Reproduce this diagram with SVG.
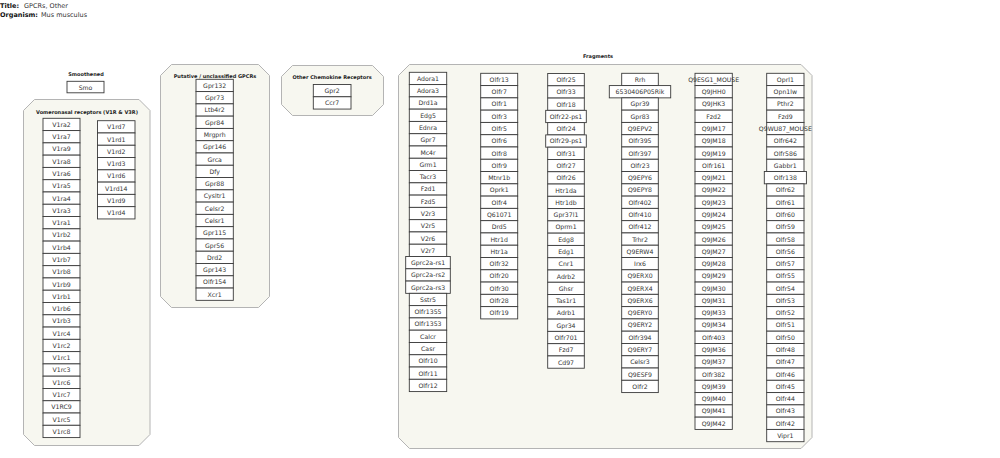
<svg xmlns="http://www.w3.org/2000/svg" width="1000" height="458" viewBox="0 0 1000 458">
<style>
.grp{fill:#f7f7f0;stroke:#b4b4b4;stroke-width:1}
.box rect{fill:#ffffff;stroke:#3a3a3a;stroke-width:0.9}
.box text{font-family:"DejaVu Sans",sans-serif;font-size:6.2px;fill:#333;text-anchor:middle}
.ttl{font-family:"DejaVu Sans",sans-serif;font-size:5px;font-weight:bold;fill:#222;text-anchor:middle}
.hd{font-family:"DejaVu Sans",sans-serif;font-size:6.5px;fill:#333}
.hd .b{font-weight:bold;fill:#111}
</style>
<rect width="1000" height="458" fill="#ffffff"/>
<g id="header">
<text class="hd" x="0" y="7.5"><tspan class="b">Title:</tspan></text><text class="hd" x="24" y="7.5">GPCRs, Other</text>
<text class="hd" x="0" y="16.5"><tspan class="b">Organism:</tspan></text><text class="hd" x="41" y="16.5">Mus musculus</text>
</g>
<g id="groups">
<path id="grp_vomeronasal" class="grp" d="M34.5,99.5 H139 L150,110.5 V434.5 L139,445.5 H34.5 L23.5,434.5 V110.5 Z"/>
<path id="grp_putative" class="grp" d="M171.5,64.5 H258.5 L269.5,75.5 V296.5 L258.5,307.5 H171.5 L160.5,296.5 V75.5 Z"/>
<path id="grp_chemokine" class="grp" d="M292.5,65.5 H372.5 L383.5,76.5 V104.5 L372.5,115.5 H292.5 L281.5,104.5 V76.5 Z"/>
<path id="grp_fragments" class="grp" d="M409.5,64.5 H801 L812,75.5 V437.5 L801,448.5 H409.5 L398.5,437.5 V75.5 Z"/>
</g>
<g id="titles">
<text class="ttl" x="86" y="76">Smoothened</text>
<text class="ttl" x="87" y="113.5">Vomeronasal receptors (V1R &amp; V3R)</text>
<text class="ttl" x="215" y="77.5">Putative / unclassified GPCRs</text>
<text class="ttl" x="332" y="78.5">Other Chemokine Receptors</text>
<text class="ttl" x="598" y="57.5">Fragments</text>
</g>
<g id="connectors"/>
<g id="n_Smo" class="box" transform="translate(67,81.3)"><rect width="37" height="11.5"/><text x="18.5" y="8.3">Smo</text></g>
<g id="col_v1ra" transform="translate(43,118.3)">
<g id="n_V1ra2" class="box" transform="translate(0,0)"><rect width="37" height="12.28"/><text x="18.5" y="8.6">V1ra2</text></g>
<g id="n_V1ra7" class="box" transform="translate(0,12.28)"><rect width="37" height="12.28"/><text x="18.5" y="8.6">V1ra7</text></g>
<g id="n_V1ra9" class="box" transform="translate(0,24.56)"><rect width="37" height="12.28"/><text x="18.5" y="8.6">V1ra9</text></g>
<g id="n_V1ra8" class="box" transform="translate(0,36.84)"><rect width="37" height="12.28"/><text x="18.5" y="8.6">V1ra8</text></g>
<g id="n_V1ra6" class="box" transform="translate(0,49.12)"><rect width="37" height="12.28"/><text x="18.5" y="8.6">V1ra6</text></g>
<g id="n_V1ra5" class="box" transform="translate(0,61.4)"><rect width="37" height="12.28"/><text x="18.5" y="8.6">V1ra5</text></g>
<g id="n_V1ra4" class="box" transform="translate(0,73.68)"><rect width="37" height="12.28"/><text x="18.5" y="8.6">V1ra4</text></g>
<g id="n_V1ra3" class="box" transform="translate(0,85.96)"><rect width="37" height="12.28"/><text x="18.5" y="8.6">V1ra3</text></g>
<g id="n_V1ra1" class="box" transform="translate(0,98.24)"><rect width="37" height="12.28"/><text x="18.5" y="8.6">V1ra1</text></g>
<g id="n_V1rb2" class="box" transform="translate(0,110.52)"><rect width="37" height="12.28"/><text x="18.5" y="8.6">V1rb2</text></g>
<g id="n_V1rb4" class="box" transform="translate(0,122.8)"><rect width="37" height="12.28"/><text x="18.5" y="8.6">V1rb4</text></g>
<g id="n_V1rb7" class="box" transform="translate(0,135.08)"><rect width="37" height="12.28"/><text x="18.5" y="8.6">V1rb7</text></g>
<g id="n_V1rb8" class="box" transform="translate(0,147.36)"><rect width="37" height="12.28"/><text x="18.5" y="8.6">V1rb8</text></g>
<g id="n_V1rb9" class="box" transform="translate(0,159.64)"><rect width="37" height="12.28"/><text x="18.5" y="8.6">V1rb9</text></g>
<g id="n_V1rb1" class="box" transform="translate(0,171.92)"><rect width="37" height="12.28"/><text x="18.5" y="8.6">V1rb1</text></g>
<g id="n_V1rb6" class="box" transform="translate(0,184.2)"><rect width="37" height="12.28"/><text x="18.5" y="8.6">V1rb6</text></g>
<g id="n_V1rb3" class="box" transform="translate(0,196.48)"><rect width="37" height="12.28"/><text x="18.5" y="8.6">V1rb3</text></g>
<g id="n_V1rc4" class="box" transform="translate(0,208.76)"><rect width="37" height="12.28"/><text x="18.5" y="8.6">V1rc4</text></g>
<g id="n_V1rc2" class="box" transform="translate(0,221.04)"><rect width="37" height="12.28"/><text x="18.5" y="8.6">V1rc2</text></g>
<g id="n_V1rc1" class="box" transform="translate(0,233.32)"><rect width="37" height="12.28"/><text x="18.5" y="8.6">V1rc1</text></g>
<g id="n_V1rc3" class="box" transform="translate(0,245.6)"><rect width="37" height="12.28"/><text x="18.5" y="8.6">V1rc3</text></g>
<g id="n_V1rc6" class="box" transform="translate(0,257.88)"><rect width="37" height="12.28"/><text x="18.5" y="8.6">V1rc6</text></g>
<g id="n_V1rc7" class="box" transform="translate(0,270.16)"><rect width="37" height="12.28"/><text x="18.5" y="8.6">V1rc7</text></g>
<g id="n_V1RC9" class="box" transform="translate(0,282.44)"><rect width="37" height="12.28"/><text x="18.5" y="8.6">V1RC9</text></g>
<g id="n_V1rc5" class="box" transform="translate(0,294.72)"><rect width="37" height="12.28"/><text x="18.5" y="8.6">V1rc5</text></g>
<g id="n_V1rc8" class="box" transform="translate(0,307)"><rect width="37" height="12.28"/><text x="18.5" y="8.6">V1rc8</text></g>
</g>
<g id="col_v1rd" transform="translate(97.5,120.7)">
<g id="n_V1rd7" class="box" transform="translate(0,0)"><rect width="37.5" height="12.28"/><text x="18.75" y="8.6">V1rd7</text></g>
<g id="n_V1rd1" class="box" transform="translate(0,12.28)"><rect width="37.5" height="12.28"/><text x="18.75" y="8.6">V1rd1</text></g>
<g id="n_V1rd2" class="box" transform="translate(0,24.56)"><rect width="37.5" height="12.28"/><text x="18.75" y="8.6">V1rd2</text></g>
<g id="n_V1rd3" class="box" transform="translate(0,36.84)"><rect width="37.5" height="12.28"/><text x="18.75" y="8.6">V1rd3</text></g>
<g id="n_V1rd6" class="box" transform="translate(0,49.12)"><rect width="37.5" height="12.28"/><text x="18.75" y="8.6">V1rd6</text></g>
<g id="n_V1rd14" class="box" transform="translate(0,61.4)"><rect width="37.5" height="12.28"/><text x="18.75" y="8.6">V1rd14</text></g>
<g id="n_V1rd9" class="box" transform="translate(0,73.68)"><rect width="37.5" height="12.28"/><text x="18.75" y="8.6">V1rd9</text></g>
<g id="n_V1rd4" class="box" transform="translate(0,85.96)"><rect width="37.5" height="12.28"/><text x="18.75" y="8.6">V1rd4</text></g>
</g>
<g id="col_putative" transform="translate(196,79.3)">
<g id="n_Gpr132" class="box" transform="translate(0,0)"><rect width="37.3" height="12.28"/><text x="18.65" y="8.6">Gpr132</text></g>
<g id="n_Gpr73" class="box" transform="translate(0,12.28)"><rect width="37.3" height="12.28"/><text x="18.65" y="8.6">Gpr73</text></g>
<g id="n_Ltb4r2" class="box" transform="translate(0,24.56)"><rect width="37.3" height="12.28"/><text x="18.65" y="8.6">Ltb4r2</text></g>
<g id="n_Gpr84" class="box" transform="translate(0,36.84)"><rect width="37.3" height="12.28"/><text x="18.65" y="8.6">Gpr84</text></g>
<g id="n_Mrgprh" class="box" transform="translate(0,49.12)"><rect width="37.3" height="12.28"/><text x="18.65" y="8.6">Mrgprh</text></g>
<g id="n_Gpr146" class="box" transform="translate(0,61.4)"><rect width="37.3" height="12.28"/><text x="18.65" y="8.6">Gpr146</text></g>
<g id="n_Grca" class="box" transform="translate(0,73.68)"><rect width="37.3" height="12.28"/><text x="18.65" y="8.6">Grca</text></g>
<g id="n_Dfy" class="box" transform="translate(0,85.96)"><rect width="37.3" height="12.28"/><text x="18.65" y="8.6">Dfy</text></g>
<g id="n_Gpr88" class="box" transform="translate(0,98.24)"><rect width="37.3" height="12.28"/><text x="18.65" y="8.6">Gpr88</text></g>
<g id="n_Cysltr1" class="box" transform="translate(0,110.52)"><rect width="37.3" height="12.28"/><text x="18.65" y="8.6">Cysltr1</text></g>
<g id="n_Celsr2" class="box" transform="translate(0,122.8)"><rect width="37.3" height="12.28"/><text x="18.65" y="8.6">Celsr2</text></g>
<g id="n_Celsr1" class="box" transform="translate(0,135.08)"><rect width="37.3" height="12.28"/><text x="18.65" y="8.6">Celsr1</text></g>
<g id="n_Gpr115" class="box" transform="translate(0,147.36)"><rect width="37.3" height="12.28"/><text x="18.65" y="8.6">Gpr115</text></g>
<g id="n_Gpr56" class="box" transform="translate(0,159.64)"><rect width="37.3" height="12.28"/><text x="18.65" y="8.6">Gpr56</text></g>
<g id="n_Drd2" class="box" transform="translate(0,171.92)"><rect width="37.3" height="12.28"/><text x="18.65" y="8.6">Drd2</text></g>
<g id="n_Gpr143" class="box" transform="translate(0,184.2)"><rect width="37.3" height="12.28"/><text x="18.65" y="8.6">Gpr143</text></g>
<g id="n_Olfr154" class="box" transform="translate(0,196.48)"><rect width="37.3" height="12.28"/><text x="18.65" y="8.6">Olfr154</text></g>
<g id="n_Xcr1" class="box" transform="translate(0,208.76)"><rect width="37.3" height="12.28"/><text x="18.65" y="8.6">Xcr1</text></g>
</g>
<g id="col_chemokine" transform="translate(313.3,84.5)">
<g id="n_Gpr2" class="box" transform="translate(0,0)"><rect width="37.7" height="12.28"/><text x="18.85" y="8.6">Gpr2</text></g>
<g id="n_Ccr7" class="box" transform="translate(0,12.28)"><rect width="37.7" height="12.28"/><text x="18.85" y="8.6">Ccr7</text></g>
</g>
<g id="col_fragA" transform="translate(409.3,72.3)">
<g id="n_Adora1" class="box" transform="translate(0,0)"><rect width="37.4" height="12.28"/><text x="18.7" y="8.6">Adora1</text></g>
<g id="n_Adora3" class="box" transform="translate(0,12.28)"><rect width="37.4" height="12.28"/><text x="18.7" y="8.6">Adora3</text></g>
<g id="n_Drd1a" class="box" transform="translate(0,24.56)"><rect width="37.4" height="12.28"/><text x="18.7" y="8.6">Drd1a</text></g>
<g id="n_Edg5" class="box" transform="translate(0,36.84)"><rect width="37.4" height="12.28"/><text x="18.7" y="8.6">Edg5</text></g>
<g id="n_Ednra" class="box" transform="translate(0,49.12)"><rect width="37.4" height="12.28"/><text x="18.7" y="8.6">Ednra</text></g>
<g id="n_Gpr7" class="box" transform="translate(0,61.4)"><rect width="37.4" height="12.28"/><text x="18.7" y="8.6">Gpr7</text></g>
<g id="n_Mc4r" class="box" transform="translate(0,73.68)"><rect width="37.4" height="12.28"/><text x="18.7" y="8.6">Mc4r</text></g>
<g id="n_Grm1" class="box" transform="translate(0,85.96)"><rect width="37.4" height="12.28"/><text x="18.7" y="8.6">Grm1</text></g>
<g id="n_Tacr3" class="box" transform="translate(0,98.24)"><rect width="37.4" height="12.28"/><text x="18.7" y="8.6">Tacr3</text></g>
<g id="n_Fzd1" class="box" transform="translate(0,110.52)"><rect width="37.4" height="12.28"/><text x="18.7" y="8.6">Fzd1</text></g>
<g id="n_Fzd5" class="box" transform="translate(0,122.8)"><rect width="37.4" height="12.28"/><text x="18.7" y="8.6">Fzd5</text></g>
<g id="n_V2r3" class="box" transform="translate(0,135.08)"><rect width="37.4" height="12.28"/><text x="18.7" y="8.6">V2r3</text></g>
<g id="n_V2r5" class="box" transform="translate(0,147.36)"><rect width="37.4" height="12.28"/><text x="18.7" y="8.6">V2r5</text></g>
<g id="n_V2r6" class="box" transform="translate(0,159.64)"><rect width="37.4" height="12.28"/><text x="18.7" y="8.6">V2r6</text></g>
<g id="n_V2r7" class="box" transform="translate(0,171.92)"><rect width="37.4" height="12.28"/><text x="18.7" y="8.6">V2r7</text></g>
<g id="n_Gprc2a-rs1" class="box" transform="translate(-3.6,184.2)"><rect width="44.6" height="12.28"/><text x="22.3" y="8.6">Gprc2a-rs1</text></g>
<g id="n_Gprc2a-rs2" class="box" transform="translate(-3.6,196.48)"><rect width="44.6" height="12.28"/><text x="22.3" y="8.6">Gprc2a-rs2</text></g>
<g id="n_Gprc2a-rs3" class="box" transform="translate(-3.6,208.76)"><rect width="44.6" height="12.28"/><text x="22.3" y="8.6">Gprc2a-rs3</text></g>
<g id="n_Sstr5" class="box" transform="translate(0,221.04)"><rect width="37.4" height="12.28"/><text x="18.7" y="8.6">Sstr5</text></g>
<g id="n_Olfr1355" class="box" transform="translate(0,233.32)"><rect width="37.4" height="12.28"/><text x="18.7" y="8.6">Olfr1355</text></g>
<g id="n_Olfr1353" class="box" transform="translate(0,245.6)"><rect width="37.4" height="12.28"/><text x="18.7" y="8.6">Olfr1353</text></g>
<g id="n_Calcr" class="box" transform="translate(0,257.88)"><rect width="37.4" height="12.28"/><text x="18.7" y="8.6">Calcr</text></g>
<g id="n_Casr" class="box" transform="translate(0,270.16)"><rect width="37.4" height="12.28"/><text x="18.7" y="8.6">Casr</text></g>
<g id="n_Olfr10" class="box" transform="translate(0,282.44)"><rect width="37.4" height="12.28"/><text x="18.7" y="8.6">Olfr10</text></g>
<g id="n_Olfr11" class="box" transform="translate(0,294.72)"><rect width="37.4" height="12.28"/><text x="18.7" y="8.6">Olfr11</text></g>
<g id="n_Olfr12" class="box" transform="translate(0,307)"><rect width="37.4" height="12.28"/><text x="18.7" y="8.6">Olfr12</text></g>
</g>
<g id="col_fragB" transform="translate(480.7,73.3)">
<g id="n_Olfr13" class="box" transform="translate(0,0)"><rect width="37" height="12.28"/><text x="18.5" y="8.6">Olfr13</text></g>
<g id="n_Olfr7" class="box" transform="translate(0,12.28)"><rect width="37" height="12.28"/><text x="18.5" y="8.6">Olfr7</text></g>
<g id="n_Olfr1" class="box" transform="translate(0,24.56)"><rect width="37" height="12.28"/><text x="18.5" y="8.6">Olfr1</text></g>
<g id="n_Olfr3" class="box" transform="translate(0,36.84)"><rect width="37" height="12.28"/><text x="18.5" y="8.6">Olfr3</text></g>
<g id="n_Olfr5" class="box" transform="translate(0,49.12)"><rect width="37" height="12.28"/><text x="18.5" y="8.6">Olfr5</text></g>
<g id="n_Olfr6" class="box" transform="translate(0,61.4)"><rect width="37" height="12.28"/><text x="18.5" y="8.6">Olfr6</text></g>
<g id="n_Olfr8" class="box" transform="translate(0,73.68)"><rect width="37" height="12.28"/><text x="18.5" y="8.6">Olfr8</text></g>
<g id="n_Olfr9" class="box" transform="translate(0,85.96)"><rect width="37" height="12.28"/><text x="18.5" y="8.6">Olfr9</text></g>
<g id="n_Mtnr1b" class="box" transform="translate(0,98.24)"><rect width="37" height="12.28"/><text x="18.5" y="8.6">Mtnr1b</text></g>
<g id="n_Oprk1" class="box" transform="translate(0,110.52)"><rect width="37" height="12.28"/><text x="18.5" y="8.6">Oprk1</text></g>
<g id="n_Olfr4" class="box" transform="translate(0,122.8)"><rect width="37" height="12.28"/><text x="18.5" y="8.6">Olfr4</text></g>
<g id="n_Q61071" class="box" transform="translate(0,135.08)"><rect width="37" height="12.28"/><text x="18.5" y="8.6">Q61071</text></g>
<g id="n_Drd5" class="box" transform="translate(0,147.36)"><rect width="37" height="12.28"/><text x="18.5" y="8.6">Drd5</text></g>
<g id="n_Htr1d" class="box" transform="translate(0,159.64)"><rect width="37" height="12.28"/><text x="18.5" y="8.6">Htr1d</text></g>
<g id="n_Htr1a" class="box" transform="translate(0,171.92)"><rect width="37" height="12.28"/><text x="18.5" y="8.6">Htr1a</text></g>
<g id="n_Olfr32" class="box" transform="translate(0,184.2)"><rect width="37" height="12.28"/><text x="18.5" y="8.6">Olfr32</text></g>
<g id="n_Olfr20" class="box" transform="translate(0,196.48)"><rect width="37" height="12.28"/><text x="18.5" y="8.6">Olfr20</text></g>
<g id="n_Olfr30" class="box" transform="translate(0,208.76)"><rect width="37" height="12.28"/><text x="18.5" y="8.6">Olfr30</text></g>
<g id="n_Olfr28" class="box" transform="translate(0,221.04)"><rect width="37" height="12.28"/><text x="18.5" y="8.6">Olfr28</text></g>
<g id="n_Olfr19" class="box" transform="translate(0,233.32)"><rect width="37" height="12.28"/><text x="18.5" y="8.6">Olfr19</text></g>
</g>
<g id="col_fragC" transform="translate(547.7,73.5)">
<g id="n_Olfr25" class="box" transform="translate(0,0)"><rect width="36.6" height="12.28"/><text x="18.3" y="8.6">Olfr25</text></g>
<g id="n_Olfr33" class="box" transform="translate(0,12.28)"><rect width="36.6" height="12.28"/><text x="18.3" y="8.6">Olfr33</text></g>
<g id="n_Olfr18" class="box" transform="translate(0,24.56)"><rect width="36.6" height="12.28"/><text x="18.3" y="8.6">Olfr18</text></g>
<g id="n_Olfr22-ps1" class="box" transform="translate(-2,36.84)"><rect width="40.6" height="12.28"/><text x="20.3" y="8.6">Olfr22-ps1</text></g>
<g id="n_Olfr24" class="box" transform="translate(0,49.12)"><rect width="36.6" height="12.28"/><text x="18.3" y="8.6">Olfr24</text></g>
<g id="n_Olfr29-ps1" class="box" transform="translate(-2,61.4)"><rect width="40.6" height="12.28"/><text x="20.3" y="8.6">Olfr29-ps1</text></g>
<g id="n_Olfr31" class="box" transform="translate(0,73.68)"><rect width="36.6" height="12.28"/><text x="18.3" y="8.6">Olfr31</text></g>
<g id="n_Olfr27" class="box" transform="translate(0,85.96)"><rect width="36.6" height="12.28"/><text x="18.3" y="8.6">Olfr27</text></g>
<g id="n_Olfr26" class="box" transform="translate(0,98.24)"><rect width="36.6" height="12.28"/><text x="18.3" y="8.6">Olfr26</text></g>
<g id="n_Htr1da" class="box" transform="translate(0,110.52)"><rect width="36.6" height="12.28"/><text x="18.3" y="8.6">Htr1da</text></g>
<g id="n_Htr1db" class="box" transform="translate(0,122.8)"><rect width="36.6" height="12.28"/><text x="18.3" y="8.6">Htr1db</text></g>
<g id="n_Gpr37l1" class="box" transform="translate(0,135.08)"><rect width="36.6" height="12.28"/><text x="18.3" y="8.6">Gpr37l1</text></g>
<g id="n_Oprm1" class="box" transform="translate(0,147.36)"><rect width="36.6" height="12.28"/><text x="18.3" y="8.6">Oprm1</text></g>
<g id="n_Edg8" class="box" transform="translate(0,159.64)"><rect width="36.6" height="12.28"/><text x="18.3" y="8.6">Edg8</text></g>
<g id="n_Edg1" class="box" transform="translate(0,171.92)"><rect width="36.6" height="12.28"/><text x="18.3" y="8.6">Edg1</text></g>
<g id="n_Cnr1" class="box" transform="translate(0,184.2)"><rect width="36.6" height="12.28"/><text x="18.3" y="8.6">Cnr1</text></g>
<g id="n_Adrb2" class="box" transform="translate(0,196.48)"><rect width="36.6" height="12.28"/><text x="18.3" y="8.6">Adrb2</text></g>
<g id="n_Ghsr" class="box" transform="translate(0,208.76)"><rect width="36.6" height="12.28"/><text x="18.3" y="8.6">Ghsr</text></g>
<g id="n_Tas1r1" class="box" transform="translate(0,221.04)"><rect width="36.6" height="12.28"/><text x="18.3" y="8.6">Tas1r1</text></g>
<g id="n_Adrb1" class="box" transform="translate(0,233.32)"><rect width="36.6" height="12.28"/><text x="18.3" y="8.6">Adrb1</text></g>
<g id="n_Gpr34" class="box" transform="translate(0,245.6)"><rect width="36.6" height="12.28"/><text x="18.3" y="8.6">Gpr34</text></g>
<g id="n_Olfr701" class="box" transform="translate(0,257.88)"><rect width="36.6" height="12.28"/><text x="18.3" y="8.6">Olfr701</text></g>
<g id="n_Fzd7" class="box" transform="translate(0,270.16)"><rect width="36.6" height="12.28"/><text x="18.3" y="8.6">Fzd7</text></g>
<g id="n_Cd97" class="box" transform="translate(0,282.44)"><rect width="36.6" height="12.28"/><text x="18.3" y="8.6">Cd97</text></g>
</g>
<g id="col_fragD" transform="translate(621.7,73.3)">
<g id="n_Rrh" class="box" transform="translate(0,0)"><rect width="36.6" height="12.28"/><text x="18.3" y="8.6">Rrh</text></g>
<g id="n_6530406P05Rik" class="box" transform="translate(-12.4,12.28)"><rect width="61.4" height="12.28"/><text x="30.7" y="8.6">6530406P05Rik</text></g>
<g id="n_Gpr39" class="box" transform="translate(0,24.56)"><rect width="36.6" height="12.28"/><text x="18.3" y="8.6">Gpr39</text></g>
<g id="n_Gpr83" class="box" transform="translate(0,36.84)"><rect width="36.6" height="12.28"/><text x="18.3" y="8.6">Gpr83</text></g>
<g id="n_Q9EPV2" class="box" transform="translate(0,49.12)"><rect width="36.6" height="12.28"/><text x="18.3" y="8.6">Q9EPV2</text></g>
<g id="n_Olfr395" class="box" transform="translate(0,61.4)"><rect width="36.6" height="12.28"/><text x="18.3" y="8.6">Olfr395</text></g>
<g id="n_Olfr397" class="box" transform="translate(0,73.68)"><rect width="36.6" height="12.28"/><text x="18.3" y="8.6">Olfr397</text></g>
<g id="n_Olfr23" class="box" transform="translate(0,85.96)"><rect width="36.6" height="12.28"/><text x="18.3" y="8.6">Olfr23</text></g>
<g id="n_Q9EPY6" class="box" transform="translate(0,98.24)"><rect width="36.6" height="12.28"/><text x="18.3" y="8.6">Q9EPY6</text></g>
<g id="n_Q9EPY8" class="box" transform="translate(0,110.52)"><rect width="36.6" height="12.28"/><text x="18.3" y="8.6">Q9EPY8</text></g>
<g id="n_Olfr402" class="box" transform="translate(0,122.8)"><rect width="36.6" height="12.28"/><text x="18.3" y="8.6">Olfr402</text></g>
<g id="n_Olfr410" class="box" transform="translate(0,135.08)"><rect width="36.6" height="12.28"/><text x="18.3" y="8.6">Olfr410</text></g>
<g id="n_Olfr412" class="box" transform="translate(0,147.36)"><rect width="36.6" height="12.28"/><text x="18.3" y="8.6">Olfr412</text></g>
<g id="n_Trhr2" class="box" transform="translate(0,159.64)"><rect width="36.6" height="12.28"/><text x="18.3" y="8.6">Trhr2</text></g>
<g id="n_Q9ERW4" class="box" transform="translate(0,171.92)"><rect width="36.6" height="12.28"/><text x="18.3" y="8.6">Q9ERW4</text></g>
<g id="n_Irx6" class="box" transform="translate(0,184.2)"><rect width="36.6" height="12.28"/><text x="18.3" y="8.6">Irx6</text></g>
<g id="n_Q9ERX0" class="box" transform="translate(0,196.48)"><rect width="36.6" height="12.28"/><text x="18.3" y="8.6">Q9ERX0</text></g>
<g id="n_Q9ERX4" class="box" transform="translate(0,208.76)"><rect width="36.6" height="12.28"/><text x="18.3" y="8.6">Q9ERX4</text></g>
<g id="n_Q9ERX6" class="box" transform="translate(0,221.04)"><rect width="36.6" height="12.28"/><text x="18.3" y="8.6">Q9ERX6</text></g>
<g id="n_Q9ERY0" class="box" transform="translate(0,233.32)"><rect width="36.6" height="12.28"/><text x="18.3" y="8.6">Q9ERY0</text></g>
<g id="n_Q9ERY2" class="box" transform="translate(0,245.6)"><rect width="36.6" height="12.28"/><text x="18.3" y="8.6">Q9ERY2</text></g>
<g id="n_Olfr394" class="box" transform="translate(0,257.88)"><rect width="36.6" height="12.28"/><text x="18.3" y="8.6">Olfr394</text></g>
<g id="n_Q9ERY7" class="box" transform="translate(0,270.16)"><rect width="36.6" height="12.28"/><text x="18.3" y="8.6">Q9ERY7</text></g>
<g id="n_Celsr3" class="box" transform="translate(0,282.44)"><rect width="36.6" height="12.28"/><text x="18.3" y="8.6">Celsr3</text></g>
<g id="n_Q9ESF9" class="box" transform="translate(0,294.72)"><rect width="36.6" height="12.28"/><text x="18.3" y="8.6">Q9ESF9</text></g>
<g id="n_Olfr2" class="box" transform="translate(0,307)"><rect width="36.6" height="12.28"/><text x="18.3" y="8.6">Olfr2</text></g>
</g>
<g id="col_fragE" transform="translate(695,73.3)">
<g id="n_Q9ESG1_MOUSE" class="box" transform="translate(0,0)"><rect width="37.3" height="12.28"/><text x="18.65" y="8.6">Q9ESG1_MOUSE</text></g>
<g id="n_Q9JHH0" class="box" transform="translate(0,12.28)"><rect width="37.3" height="12.28"/><text x="18.65" y="8.6">Q9JHH0</text></g>
<g id="n_Q9JHK3" class="box" transform="translate(0,24.56)"><rect width="37.3" height="12.28"/><text x="18.65" y="8.6">Q9JHK3</text></g>
<g id="n_Fzd2" class="box" transform="translate(0,36.84)"><rect width="37.3" height="12.28"/><text x="18.65" y="8.6">Fzd2</text></g>
<g id="n_Q9JM17" class="box" transform="translate(0,49.12)"><rect width="37.3" height="12.28"/><text x="18.65" y="8.6">Q9JM17</text></g>
<g id="n_Q9JM18" class="box" transform="translate(0,61.4)"><rect width="37.3" height="12.28"/><text x="18.65" y="8.6">Q9JM18</text></g>
<g id="n_Q9JM19" class="box" transform="translate(0,73.68)"><rect width="37.3" height="12.28"/><text x="18.65" y="8.6">Q9JM19</text></g>
<g id="n_Olfr161" class="box" transform="translate(0,85.96)"><rect width="37.3" height="12.28"/><text x="18.65" y="8.6">Olfr161</text></g>
<g id="n_Q9JM21" class="box" transform="translate(0,98.24)"><rect width="37.3" height="12.28"/><text x="18.65" y="8.6">Q9JM21</text></g>
<g id="n_Q9JM22" class="box" transform="translate(0,110.52)"><rect width="37.3" height="12.28"/><text x="18.65" y="8.6">Q9JM22</text></g>
<g id="n_Q9JM23" class="box" transform="translate(0,122.8)"><rect width="37.3" height="12.28"/><text x="18.65" y="8.6">Q9JM23</text></g>
<g id="n_Q9JM24" class="box" transform="translate(0,135.08)"><rect width="37.3" height="12.28"/><text x="18.65" y="8.6">Q9JM24</text></g>
<g id="n_Q9JM25" class="box" transform="translate(0,147.36)"><rect width="37.3" height="12.28"/><text x="18.65" y="8.6">Q9JM25</text></g>
<g id="n_Q9JM26" class="box" transform="translate(0,159.64)"><rect width="37.3" height="12.28"/><text x="18.65" y="8.6">Q9JM26</text></g>
<g id="n_Q9JM27" class="box" transform="translate(0,171.92)"><rect width="37.3" height="12.28"/><text x="18.65" y="8.6">Q9JM27</text></g>
<g id="n_Q9JM28" class="box" transform="translate(0,184.2)"><rect width="37.3" height="12.28"/><text x="18.65" y="8.6">Q9JM28</text></g>
<g id="n_Q9JM29" class="box" transform="translate(0,196.48)"><rect width="37.3" height="12.28"/><text x="18.65" y="8.6">Q9JM29</text></g>
<g id="n_Q9JM30" class="box" transform="translate(0,208.76)"><rect width="37.3" height="12.28"/><text x="18.65" y="8.6">Q9JM30</text></g>
<g id="n_Q9JM31" class="box" transform="translate(0,221.04)"><rect width="37.3" height="12.28"/><text x="18.65" y="8.6">Q9JM31</text></g>
<g id="n_Q9JM33" class="box" transform="translate(0,233.32)"><rect width="37.3" height="12.28"/><text x="18.65" y="8.6">Q9JM33</text></g>
<g id="n_Q9JM34" class="box" transform="translate(0,245.6)"><rect width="37.3" height="12.28"/><text x="18.65" y="8.6">Q9JM34</text></g>
<g id="n_Olfr403" class="box" transform="translate(0,257.88)"><rect width="37.3" height="12.28"/><text x="18.65" y="8.6">Olfr403</text></g>
<g id="n_Q9JM36" class="box" transform="translate(0,270.16)"><rect width="37.3" height="12.28"/><text x="18.65" y="8.6">Q9JM36</text></g>
<g id="n_Q9JM37" class="box" transform="translate(0,282.44)"><rect width="37.3" height="12.28"/><text x="18.65" y="8.6">Q9JM37</text></g>
<g id="n_Olfr382" class="box" transform="translate(0,294.72)"><rect width="37.3" height="12.28"/><text x="18.65" y="8.6">Olfr382</text></g>
<g id="n_Q9JM39" class="box" transform="translate(0,307)"><rect width="37.3" height="12.28"/><text x="18.65" y="8.6">Q9JM39</text></g>
<g id="n_Q9JM40" class="box" transform="translate(0,319.28)"><rect width="37.3" height="12.28"/><text x="18.65" y="8.6">Q9JM40</text></g>
<g id="n_Q9JM41" class="box" transform="translate(0,331.56)"><rect width="37.3" height="12.28"/><text x="18.65" y="8.6">Q9JM41</text></g>
<g id="n_Q9JM42" class="box" transform="translate(0,343.84)"><rect width="37.3" height="12.28"/><text x="18.65" y="8.6">Q9JM42</text></g>
</g>
<g id="col_fragF" transform="translate(766.7,73.3)">
<g id="n_Oprl1" class="box" transform="translate(0,0)"><rect width="37.3" height="12.28"/><text x="18.65" y="8.6">Oprl1</text></g>
<g id="n_Opn1lw" class="box" transform="translate(0,12.28)"><rect width="37.3" height="12.28"/><text x="18.65" y="8.6">Opn1lw</text></g>
<g id="n_Pthr2" class="box" transform="translate(0,24.56)"><rect width="37.3" height="12.28"/><text x="18.65" y="8.6">Pthr2</text></g>
<g id="n_Fzd9" class="box" transform="translate(0,36.84)"><rect width="37.3" height="12.28"/><text x="18.65" y="8.6">Fzd9</text></g>
<g id="n_Q9WU87_MOUSE" class="box" transform="translate(0,49.12)"><rect width="37.3" height="12.28"/><text x="18.65" y="8.6">Q9WU87_MOUSE</text></g>
<g id="n_Olfr642" class="box" transform="translate(0,61.4)"><rect width="37.3" height="12.28"/><text x="18.65" y="8.6">Olfr642</text></g>
<g id="n_Olfr586" class="box" transform="translate(0,73.68)"><rect width="37.3" height="12.28"/><text x="18.65" y="8.6">Olfr586</text></g>
<g id="n_Gabbr1" class="box" transform="translate(0,85.96)"><rect width="37.3" height="12.28"/><text x="18.65" y="8.6">Gabbr1</text></g>
<g id="n_Olfr138" class="box" transform="translate(-2.4,98.24)"><rect width="42.1" height="12.28"/><text x="21.05" y="8.6">Olfr138</text></g>
<g id="n_Olfr62" class="box" transform="translate(0,110.52)"><rect width="37.3" height="12.28"/><text x="18.65" y="8.6">Olfr62</text></g>
<g id="n_Olfr61" class="box" transform="translate(0,122.8)"><rect width="37.3" height="12.28"/><text x="18.65" y="8.6">Olfr61</text></g>
<g id="n_Olfr60" class="box" transform="translate(0,135.08)"><rect width="37.3" height="12.28"/><text x="18.65" y="8.6">Olfr60</text></g>
<g id="n_Olfr59" class="box" transform="translate(0,147.36)"><rect width="37.3" height="12.28"/><text x="18.65" y="8.6">Olfr59</text></g>
<g id="n_Olfr58" class="box" transform="translate(0,159.64)"><rect width="37.3" height="12.28"/><text x="18.65" y="8.6">Olfr58</text></g>
<g id="n_Olfr56" class="box" transform="translate(0,171.92)"><rect width="37.3" height="12.28"/><text x="18.65" y="8.6">Olfr56</text></g>
<g id="n_Olfr57" class="box" transform="translate(0,184.2)"><rect width="37.3" height="12.28"/><text x="18.65" y="8.6">Olfr57</text></g>
<g id="n_Olfr55" class="box" transform="translate(0,196.48)"><rect width="37.3" height="12.28"/><text x="18.65" y="8.6">Olfr55</text></g>
<g id="n_Olfr54" class="box" transform="translate(0,208.76)"><rect width="37.3" height="12.28"/><text x="18.65" y="8.6">Olfr54</text></g>
<g id="n_Olfr53" class="box" transform="translate(0,221.04)"><rect width="37.3" height="12.28"/><text x="18.65" y="8.6">Olfr53</text></g>
<g id="n_Olfr52" class="box" transform="translate(0,233.32)"><rect width="37.3" height="12.28"/><text x="18.65" y="8.6">Olfr52</text></g>
<g id="n_Olfr51" class="box" transform="translate(0,245.6)"><rect width="37.3" height="12.28"/><text x="18.65" y="8.6">Olfr51</text></g>
<g id="n_Olfr50" class="box" transform="translate(0,257.88)"><rect width="37.3" height="12.28"/><text x="18.65" y="8.6">Olfr50</text></g>
<g id="n_Olfr48" class="box" transform="translate(0,270.16)"><rect width="37.3" height="12.28"/><text x="18.65" y="8.6">Olfr48</text></g>
<g id="n_Olfr47" class="box" transform="translate(0,282.44)"><rect width="37.3" height="12.28"/><text x="18.65" y="8.6">Olfr47</text></g>
<g id="n_Olfr46" class="box" transform="translate(0,294.72)"><rect width="37.3" height="12.28"/><text x="18.65" y="8.6">Olfr46</text></g>
<g id="n_Olfr45" class="box" transform="translate(0,307)"><rect width="37.3" height="12.28"/><text x="18.65" y="8.6">Olfr45</text></g>
<g id="n_Olfr44" class="box" transform="translate(0,319.28)"><rect width="37.3" height="12.28"/><text x="18.65" y="8.6">Olfr44</text></g>
<g id="n_Olfr43" class="box" transform="translate(0,331.56)"><rect width="37.3" height="12.28"/><text x="18.65" y="8.6">Olfr43</text></g>
<g id="n_Olfr42" class="box" transform="translate(0,343.84)"><rect width="37.3" height="12.28"/><text x="18.65" y="8.6">Olfr42</text></g>
<g id="n_Vipr1" class="box" transform="translate(0,356.12)"><rect width="37.3" height="12.28"/><text x="18.65" y="8.6">Vipr1</text></g>
</g>
</svg>
